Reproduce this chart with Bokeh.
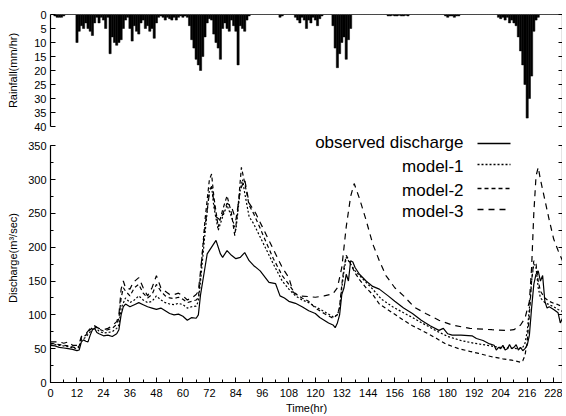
from bokeh.plotting import figure
from bokeh.layouts import column
from bokeh.models import Range1d, LinearAxis, FixedTicker, Span, Label, Arrow
from bokeh.embed import file_html
from bokeh.resources import INLINE

FONT = "Liberation Sans"

# ---------------- data ----------------
x_ticks = list(range(0, 229, 12))
x_minor = list(range(0, 233, 6))
rain_ticks = list(range(0, 41, 5))
q_ticks = list(range(0, 351, 50))
q_minor = list(range(0, 351, 25))

# hourly rainfall (mm/hr), index = hour
rain_mm = [
    0, 0, 0.5, 1, 1, 1, 0.5, 0, 0, 0, 0, 0,
    10, 6, 4, 5, 3, 5, 6, 7.5, 3, 1, 3, 1,
    2, 5, 1, 14, 8, 10, 11, 10, 9, 5, 2, 1,
    5, 9.5, 4, 6, 7, 3, 2, 5, 4, 6, 5, 8.5,
    3, 1, 0.5, 1, 2, 1, 1.5, 2, 1, 2, 1, 0.5,
    1, 0.5, 1, 4, 9, 12, 16, 18, 20, 15, 8, 3,
    1.5, 2, 7, 10, 12, 16, 5, 3, 5, 6, 2, 4,
    6, 18, 4, 5, 6, 2, 0.5, 0, 0, 0, 0, 0,
    0, 0, 0, 0, 0, 0, 0, 0, 1, 0.5, 0, 0,
    0, 0, 0, 1, 2, 3, 1, 2, 5, 2, 3, 1,
    2, 4, 1.5, 0.5, 0, 0, 0, 0, 4, 12, 19, 14,
    10, 8, 16, 9, 5, 0, 0, 0, 0, 0, 0, 0,
    0, 0, 0, 0, 0, 0, 0, 0, 0, 0.5, 0.5, 0.3,
    0.5, 0.5, 0.3, 0.5, 0.5, 0.3, 0.5, 0, 0, 0, 0, 0,
    0, 0, 0, 0, 0, 0, 0, 0, 0, 0, 0, 0.5,
    1, 0.5, 0.5, 1, 0.5, 0.5, 0, 0, 0, 0, 0, 0,
    0, 0, 0, 0, 0, 0, 0, 0, 0, 0, 0, 1,
    1.5, 1, 2, 1, 3, 2, 3, 4, 8, 13, 18, 25,
    37, 30, 22, 6, 2, 1, 0, 0, 0, 0, 0, 0,
    0, 0, 0, 0, 0,
]
rain_hr = list(range(len(rain_mm)))

obs_t = [0, 2, 4, 6, 8, 10, 12, 13, 14, 15, 16, 17, 18, 19, 20, 21, 22, 24, 26, 28,
         30, 31, 32, 33, 34, 36, 38, 40, 42, 44, 46, 48, 50, 52, 54, 56, 58, 60, 62, 64,
         66, 67, 68, 70, 71, 73, 75, 77, 78, 80, 82, 84, 86, 88, 90, 92, 95, 99, 102, 104,
         106, 108, 111, 114, 117, 120, 122, 124, 126, 128, 129, 130, 131, 132, 133, 134, 135, 136, 137, 138,
         140, 143, 146, 149, 153, 156, 160, 164, 168, 172, 176, 178, 180, 182, 186, 191, 193, 196, 199, 201,
         202, 203, 204, 205, 206, 207, 208, 209, 210, 211, 212, 213, 214, 215, 216, 217, 218, 219, 220, 221,
         222, 223, 224, 225, 226, 228, 230, 231, 232]
obs_q = [55, 54, 52, 51, 50, 49, 47, 48, 60, 63, 61, 60, 70, 78, 80, 74, 72, 69, 70, 68,
         72, 78, 100, 112, 116, 112, 115, 118, 115, 112, 110, 108, 110, 106, 102, 100, 101, 98, 92, 96,
         95, 100, 130, 170, 190, 200, 210, 190, 185, 195, 188, 183, 185, 192, 180, 173, 165, 148, 146, 128,
         125, 120, 117, 112, 106, 102, 96, 92, 88, 85, 81, 88, 100, 130, 140, 160, 150, 180, 178, 170,
         160, 150, 142, 138, 128, 120, 110, 102, 92, 84, 77, 80, 72, 70, 70, 69, 65, 62, 57, 55,
         48, 52, 50, 55, 48, 50, 56, 50, 52, 56, 48, 52, 47, 50, 55, 70, 110, 145, 160, 165,
         150, 158, 120, 110, 112, 108, 103, 88, 95]

m1_t = [0, 4, 8, 12, 13, 14, 16, 18, 20, 22, 24, 26, 28, 30, 31, 32, 34, 36, 38, 40,
        42, 44, 46, 48, 50, 52, 54, 56, 58, 60, 62, 64, 66, 67, 68, 70, 72, 73, 74, 76,
        78, 80, 82, 84, 86, 87, 88, 90, 92, 95, 98, 101, 105, 108, 111, 114, 117, 120, 124, 128,
        130, 131, 132, 133, 134, 135, 136, 138, 140, 143, 146, 150, 155, 160, 164, 170, 175, 180, 186, 192,
        198, 203, 208, 212, 214, 215, 216, 217, 218, 219, 220, 221, 222, 224, 226, 228, 230, 232]
m1_q = [57, 55, 53, 50, 52, 63, 67, 75, 82, 76, 73, 74, 75, 80, 85, 110, 125, 118, 122, 128,
        122, 118, 120, 128, 122, 118, 116, 115, 117, 115, 110, 112, 113, 120, 150, 220, 285, 290, 260, 225,
        245, 262, 245, 225, 285, 300, 280, 245, 235, 215, 195, 175, 150, 138, 128, 122, 118, 112, 105, 97,
        100, 110, 140, 165, 185, 180, 175, 165, 158, 148, 138, 123, 112, 103, 96, 85, 76, 68, 62, 58,
        55, 52, 51, 50, 52, 58, 75, 110, 150, 175, 170, 140, 125, 118, 115, 112, 108, 105]

m2_t = [0, 4, 8, 12, 13, 14, 16, 18, 20, 22, 24, 26, 28, 30, 31, 32, 33, 34, 36, 38,
        40, 42, 44, 46, 48, 50, 52, 54, 56, 58, 60, 62, 64, 66, 67, 68, 70, 72, 73, 74,
        76, 78, 80, 82, 83.5, 85, 86.5, 88, 90, 92, 95, 98, 101, 105, 108, 111, 114, 117, 120, 124,
        128, 130, 131, 132, 133, 134, 135, 136, 138, 140, 143, 146, 149, 155, 160, 164, 170, 175, 179, 185,
        190, 194, 200, 205, 209, 213, 214, 215, 216, 217, 218, 219, 220, 221, 222, 224, 226, 228, 230, 232]
m2_q = [58, 56, 54, 51, 54, 66, 70, 78, 84, 79, 76, 78, 80, 86, 95, 125, 140, 135, 128, 140,
        145, 132, 125, 130, 145, 135, 128, 125, 124, 126, 123, 118, 120, 122, 125, 160, 240, 300, 308, 275,
        230, 255, 276, 250, 217, 260, 318, 295, 262, 250, 228, 205, 183, 158, 145, 131, 125, 120, 110, 102,
        95, 100, 112, 145, 170, 188, 182, 175, 162, 152, 140, 130, 116, 103, 92, 84, 74, 65, 57, 50,
        46, 43, 38, 35, 33, 30, 32, 40, 60, 100, 150, 180, 175, 150, 135, 125, 120, 117, 115, 112]

m3_t = [0, 4, 6, 8, 10, 12, 13, 14, 16, 18, 20, 22, 24, 26, 28, 30, 31, 32, 33, 34,
        36, 37.5, 40, 42, 44, 46, 48, 50, 52, 54, 56, 58, 60, 62, 64, 66, 67, 68, 70, 72,
        73, 75, 77, 80, 82, 84, 86, 88, 90, 93, 96, 99, 102, 105, 108, 110, 113, 117, 120, 124,
        128, 130, 132, 134, 136, 137.6, 140, 143, 146, 149, 152, 156, 160, 165, 170, 176, 182, 190, 200, 206,
        210, 213, 215, 217, 218, 219, 220, 221, 222, 224, 226, 228, 230, 232]
m3_q = [60, 60, 58, 60, 55, 55, 58, 68, 72, 80, 83, 80, 78, 80, 84, 90, 100, 138, 150, 140,
        138, 148, 155, 140, 128, 140, 158, 140, 135, 130, 130, 132, 128, 122, 125, 130, 135, 165, 230, 280,
        290, 245, 240, 265, 260, 240, 285, 300, 265, 250, 230, 210, 190, 170, 155, 133, 128, 127, 126, 128,
        131, 140, 170, 230, 275, 294, 272, 240, 205, 180, 158, 140, 128, 111, 102, 92, 85, 80, 78, 77,
        78, 85, 95, 120, 170, 250, 305, 318, 300, 270, 240, 212, 195, 180]

series = [
    ("observed discharge", obs_t, obs_q, "solid"),
    ("model-1", m1_t, m1_q, "2 2"),
    ("model-2", m2_t, m2_q, "4 3"),
    ("model-3", m3_t, m3_q, "6 5"),
]


def style_axis(ax, ticks, minor=None):
    ax.ticker = FixedTicker(ticks=ticks, minor_ticks=minor or [])
    ax.axis_line_color = "black"
    ax.axis_line_width = 1.2
    ax.major_tick_in = 5
    ax.major_tick_out = 0
    ax.minor_tick_in = 3
    ax.minor_tick_out = 0
    ax.major_tick_line_color = "black"
    ax.minor_tick_line_color = "black"
    ax.major_label_text_font = FONT
    ax.major_label_text_font_size = "11px"
    ax.major_label_text_color = "black"
    ax.major_label_standoff = 4
    ax.axis_label_text_font = FONT
    ax.axis_label_text_font_style = "normal"
    ax.axis_label_text_font_size = "11px"
    ax.axis_label_text_color = "black"


def right_axis(ticks, bounds="auto"):
    # tick marks only: ticks given as minor ticks so no labels are drawn
    ax = LinearAxis(ticker=FixedTicker(ticks=[], minor_ticks=ticks), bounds=bounds)
    ax.axis_line_color = "black"
    ax.axis_line_width = 1.2
    ax.minor_tick_in = 4
    ax.minor_tick_out = 0
    ax.minor_tick_line_color = "black"
    ax.major_tick_in = 0
    ax.major_tick_out = 0
    ax.major_label_standoff = 0
    return ax


xr = Range1d(0, 232)

# ---------------- rainfall panel ----------------
top = figure(x_range=xr, y_range=Range1d(40, 0), frame_width=512, frame_height=112,
             output_backend="svg", toolbar_location=None,
             min_border_left=50, min_border_right=0, min_border_top=14, min_border_bottom=7,
             x_axis_location=None)
top.grid.visible = False
top.outline_line_color = None
top.background_fill_color = "white"
top.border_fill_color = "white"
top.vbar(x=rain_hr, top=rain_mm, bottom=0, width=1.0, fill_color="black", line_color="black", line_width=0.5)
style_axis(top.yaxis[0], rain_ticks)
top.yaxis[0].axis_label = "Rainfall(mm/hr)"
top.yaxis[0].axis_label_standoff = 12
top.add_layout(right_axis(rain_ticks), "right")
top.add_layout(Span(location=0, dimension="width", line_color="black", line_width=1.2))

# ---------------- discharge panel ----------------
bot = figure(x_range=xr, y_range=Range1d(0, 368), frame_width=512, frame_height=249,
             output_backend="svg", toolbar_location=None,
             min_border_left=50, min_border_right=0, min_border_top=0, min_border_bottom=0)
bot.grid.visible = False
bot.outline_line_color = None
bot.background_fill_color = "white"
bot.border_fill_color = "white"
for name, t, q, dash in series:
    bot.line(t, q, line_color="black", line_width=1.2, line_dash=dash)

style_axis(bot.xaxis[0], x_ticks, x_minor)
bot.xaxis[0].axis_label = "Time(hr)"
bot.xaxis[0].major_label_standoff = 6
bot.xaxis[0].axis_label_standoff = 2
style_axis(bot.yaxis[0], q_ticks, q_minor)
bot.yaxis[0].bounds = (0, 350)
bot.yaxis[0].axis_label = "Discharge(m\u00b3/sec)"
bot.yaxis[0].axis_label_standoff = 6
bot.add_layout(right_axis(q_minor, bounds=(0, 350)), "right")

# manual legend: text right-aligned, sample line on the right (screen units from frame bottom-left)
leg_text_y = [240, 216, 192, 171]
leg_line_y = [239, 218, 194, 173]
for (name, t, q, dash), ty, ly in zip(series, leg_text_y, leg_line_y):
    bot.add_layout(Label(x=413, y=ty, x_units="screen", y_units="screen", text=name,
                         text_align="right", text_baseline="middle",
                         text_font=FONT, text_font_size="17px", text_color="black"))
    bot.add_layout(Arrow(x_start=427, y_start=ly, x_end=460, y_end=ly,
                         start_units="screen", end_units="screen", end=None,
                         line_color="black", line_width=1.3, line_dash=dash))

layout = column(top, bot, spacing=0)
open("out.html", "w").write(file_html(layout, INLINE))
